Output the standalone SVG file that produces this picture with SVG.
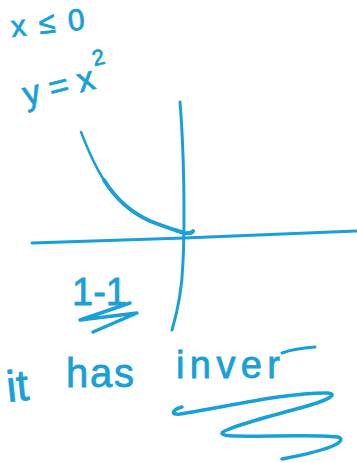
<svg xmlns="http://www.w3.org/2000/svg" width="357" height="463" viewBox="0 0 357 463">
<style>
.ink{fill:none;stroke:#1aa0d8;stroke-linecap:round;stroke-linejoin:round}
.t{fill:#1aa0d8;stroke:#1aa0d8;stroke-width:0.8;font-family:"Liberation Sans","DejaVu Sans",sans-serif}
</style>
<rect width="357" height="463" fill="#fff"/>
<g id="label-domain">
<text class="t" x="12" y="37" font-size="30" transform="rotate(-6 12 37)" textLength="74" lengthAdjust="spacing">x ≤ 0</text>
</g>
<g id="label-function">
<text class="t" x="26" y="106" font-size="34" transform="rotate(-14 26 106)">y = x<tspan font-size="22" dx="3" dy="-22">2</tspan></text>
</g>
<g id="axes">
<path class="ink" stroke-width="3" d="M180,102 C184,150 185,220 183,262 C182,290 178,310 172,330"/>
<path class="ink" stroke-width="3" d="M32,243 L184,238 L356,231"/>
</g>
<g id="curve">
<path class="ink" stroke-width="2.5" d="M81,132 C88,150 96,168 104,180"/>
<path class="ink" stroke-width="4" d="M104,180 C115,198 130,212 150,221 C165,227 175,230 184,233 C190,234 193,232 193,231"/>
</g>
<g id="label-one-to-one">
<text class="t" x="72" y="305" font-size="38">1-1</text>
<path class="ink" stroke-width="3.5" d="M130,303 L80,320 L137,313 L93,332"/>
</g>
<g id="label-inverse">
<text class="t" x="8" y="402" font-size="44" transform="rotate(-6 8 402)">it</text>
<text class="t" x="66" y="387" font-size="40" textLength="68" lengthAdjust="spacing">has</text>
<text class="t" x="176" y="378" font-size="38" textLength="104" lengthAdjust="spacing">inver</text>
<path class="ink" stroke-width="3" d="M282,353 C290,350 300,348 315,347"/>
</g>
<g id="scribble">
<path class="ink" stroke-width="3.5" d="M182,407 C172,410 170,415 180,414 C230,406 290,392 328,393 C338,394 330,400 300,408 C270,416 225,428 222,433 C220,440 300,433 338,437 C346,440 340,448 282,459"/>
</g>
</svg>
